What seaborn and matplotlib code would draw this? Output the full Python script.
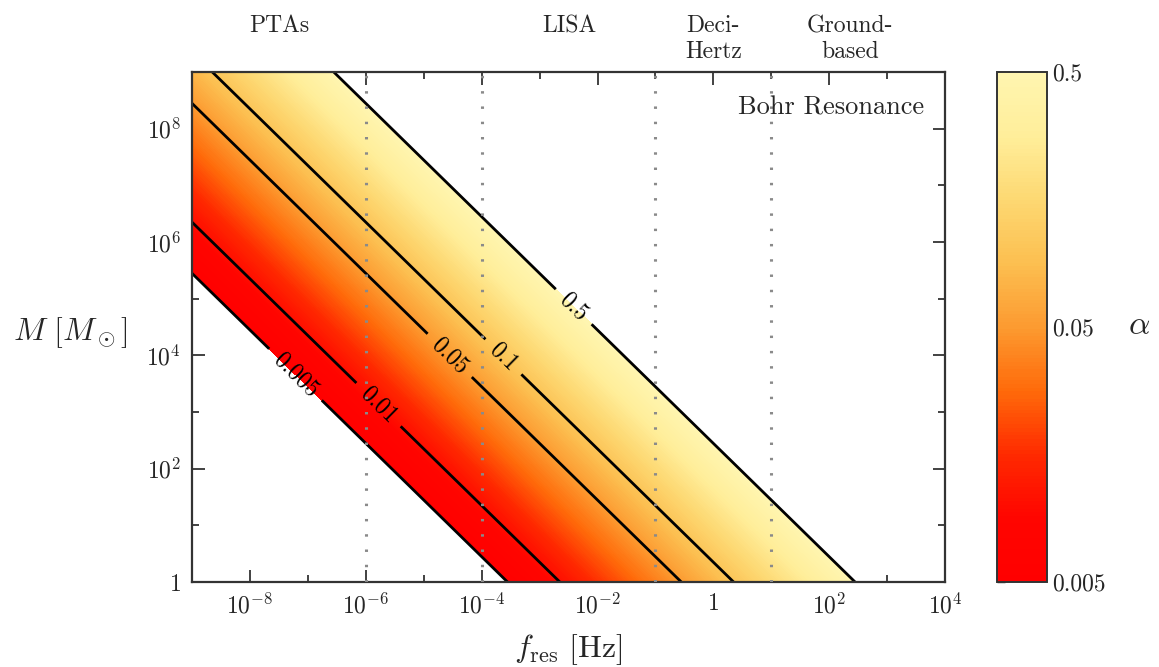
import numpy as np
import matplotlib
matplotlib.use("Agg")
import matplotlib.pyplot as plt
import matplotlib.ticker as mticker
import matplotlib.transforms as mtrans
from matplotlib.colors import Normalize
import seaborn as sns

# ---- values ----
log_K = 3.35                                # f_res = K * alpha^3 / M  (Hz, M in Msun)
alpha_levels = [0.005, 0.01, 0.05, 0.1, 0.5]
alpha_label_text = ["0.005", "0.01", "0.05", "0.1", "0.5"]
label_pos_logf = [-7.31, -5.79, -4.55, -3.60, -2.39]
label_pos_logM = [3.56, 3.12, 4.0, 4.0, 4.88]
band_edges_log = [-6, -4, -1, 1]
band_names = ["PTAs", "LISA", "Deci-\nHertz", "Ground-\nbased"]
band_name_logf = [-7.49, -2.48, 0.0, 2.36]
cmap_colors = ["#ff0000", "#ff0500", "#ff2a00", "#ff6a0a", "#fc9a30",
               "#fcbf50", "#fdd872", "#ffee9a", "#fff5b0"]
cbar_ticks = [0.005, 0.05, 0.5]
cbar_ticklabels = ["0.005", "0.05", "0.5"]

sns.set_theme(style="ticks")
plt.rcParams.update({
    "font.family": "serif",
    "font.serif": ["cmr10", "DejaVu Serif"],
    "mathtext.fontset": "cm",
    "axes.formatter.use_mathtext": True,
    "axes.unicode_minus": True,
})

cmap = sns.blend_palette(cmap_colors, as_cmap=True)
log_levels = np.log10(alpha_levels)
norm = Normalize(vmin=log_levels[0], vmax=log_levels[-1])

fig = plt.figure(figsize=(11.59, 6.67), dpi=100)
ax = fig.add_axes([0.1657, 0.1274, 0.6497, 0.7646])
cax = fig.add_axes([0.860, 0.1274, 0.0431, 0.7646])

# work in decades (log10 f, log10 M) on linear axes
lf = np.linspace(-9, 4, 500)
lm = np.linspace(0, 9, 500)
LF, LM = np.meshgrid(lf, lm)
log_alpha = (LF + LM - log_K) / 3.0

fill_levels = np.linspace(log_levels[0], log_levels[-1], 140)
cf = ax.contourf(LF, LM, log_alpha, levels=fill_levels, cmap=cmap, norm=norm)
cs = ax.contour(LF, LM, log_alpha, levels=log_levels, colors="black",
                linewidths=2.0, linestyles="solid")
fmt = {lv: t for lv, t in zip(cs.levels, alpha_label_text)}
manual = list(zip(label_pos_logf, label_pos_logM))
ax.clabel(cs, fmt=fmt, manual=manual, inline=True, inline_spacing=10, fontsize=17)

for fe in band_edges_log:
    ax.axvline(fe, color="#8a8a8a", lw=2.2, linestyle=(0, (0.8, 4.2)), zorder=3)

ax.set_xlim(-9, 4)
ax.set_ylim(0, 9)

ax.xaxis.set_major_locator(mticker.FixedLocator(list(range(-8, 5, 2))))
ax.xaxis.set_minor_locator(mticker.FixedLocator(list(range(-9, 5, 2))))
ax.yaxis.set_major_locator(mticker.FixedLocator(list(range(0, 10, 2))))
ax.yaxis.set_minor_locator(mticker.FixedLocator(list(range(1, 10, 2))))

def logfmt(v, pos):
    e = int(round(v))
    if e == 0:
        return "$1$"
    return r"$10^{%d}$" % e

ax.xaxis.set_major_formatter(mticker.FuncFormatter(logfmt))
ax.yaxis.set_major_formatter(mticker.FuncFormatter(logfmt))
ax.xaxis.set_minor_formatter(mticker.NullFormatter())
ax.yaxis.set_minor_formatter(mticker.NullFormatter())
ax.tick_params(which="both", direction="in", top=True, right=True,
               color="#333333", width=1.3, labelsize=17, pad=8)
ax.tick_params(which="major", length=9)
ax.tick_params(which="minor", length=5)
for s in ax.spines.values():
    s.set_linewidth(1.6)
    s.set_color("#333333")

ax.set_xlabel(r"$f_{\rm res}\ [{\rm Hz}]$", fontsize=23, labelpad=10)
ax.set_ylabel(r"$M\ [M_\odot]$", fontsize=23, rotation=0, ha="center", va="center")
ax.yaxis.set_label_coords(-0.162, 0.49)

trans = mtrans.blended_transform_factory(ax.transData, ax.transAxes)
for xf, name in zip(band_name_logf, band_names):
    ax.text(xf, 1.112, name, transform=trans, ha="center", va="top",
            fontsize=17, linespacing=1.2)

ax.text(0.972, 0.931, "Bohr Resonance", transform=ax.transAxes, ha="right",
        va="center", fontsize=19)

cb = fig.colorbar(cf, cax=cax)
cb.set_ticks(list(np.log10(cbar_ticks)))
cb.set_ticklabels(cbar_ticklabels)
cb.ax.minorticks_off()
cb.ax.tick_params(labelsize=17, direction="in", length=6, width=1.0,
                  left=True, right=False, pad=4)
cb.ax.yaxis.set_ticks_position("both")
cb.ax.tick_params(right=False)
cb.outline.set_linewidth(1.4)
cb.outline.set_edgecolor("#333333")
fig.text(0.983, 0.512, r"$\alpha$", fontsize=24, ha="center", va="center")

fig.savefig("out.png", dpi=100, facecolor="white")
